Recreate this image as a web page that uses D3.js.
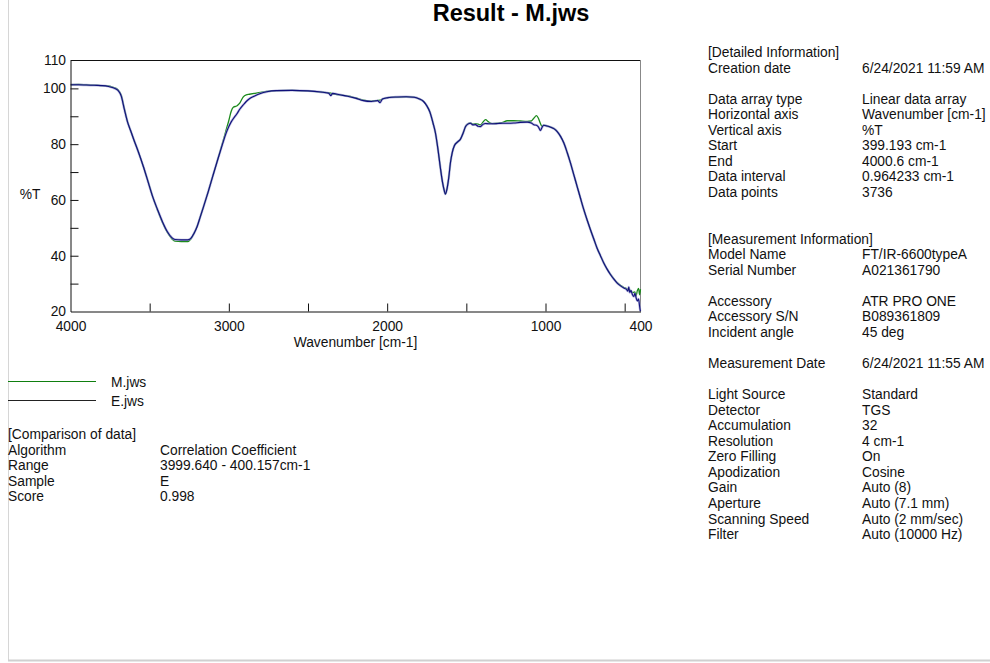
<!DOCTYPE html>
<html>
<head>
<meta charset="utf-8">
<script src="https://cdn.jsdelivr.net/npm/d3@7"></script>
<style>
  html, body { margin: 0; padding: 0; background: #fff; }
  svg text { font-family: "Liberation Sans", Arial, sans-serif; fill: #111; }
</style>
</head>
<body>
<svg id="chart" width="990" height="663"></svg>
<script>
// ---------------- data ----------------
const wavenumbers = [
  4000, 3950, 3900, 3850, 3800, 3760, 3730, 3700, 3680, 3660, 3640, 3620, 3600, 3570, 3540, 3510,
  3480, 3450, 3420, 3390, 3360, 3340, 3300, 3260, 3240, 3220, 3200, 3180, 3160, 3130, 3100, 3070,
  3040, 3020, 3000, 2985, 2970, 2950, 2930, 2910, 2890, 2870, 2840, 2800, 2760, 2700, 2600, 2500,
  2420, 2370, 2355, 2345, 2300, 2250, 2200, 2150, 2100, 2060, 2045, 2030, 2000, 1970, 1940, 1880,
  1830, 1800, 1770, 1750, 1730, 1710, 1695, 1680, 1665, 1650, 1640, 1632, 1622, 1611, 1600, 1589,
  1575, 1555, 1537, 1520, 1505, 1490, 1474, 1458, 1442, 1425, 1411, 1395, 1379, 1360, 1337, 1300,
  1270, 1242, 1200, 1160, 1116, 1090, 1074, 1057, 1045, 1032, 1022, 1011, 990, 968, 945, 926,
  905, 884, 863, 842, 821, 800, 779, 758, 737, 716, 695, 674, 653, 632, 611, 589,
  568, 547, 526, 505, 490, 480, 474, 468, 460, 452, 442, 435, 428, 420, 412, 406,
  402, 400
];
const seriesE = [
  101.3, 101.3, 101.2, 101.1, 101.0, 100.7, 100.2, 99.3, 97.3, 92.5, 88.0, 84.8, 81.6, 77.0, 72.0, 66.5,
  61.0, 56.5, 52.3, 48.8, 46.5, 45.8, 45.7, 45.7, 46.2, 48.0, 50.5, 54.0, 57.5, 63.0, 68.8, 74.5,
  80.0, 83.5, 86.3, 88.0, 89.3, 90.8, 92.6, 94.0, 95.3, 96.3, 97.2, 98.2, 98.8, 99.2, 99.3, 99.1,
  98.7, 98.3, 97.4, 98.2, 97.7, 97.2, 96.5, 95.6, 95.3, 95.6, 94.9, 96.2, 96.6, 96.8, 96.9, 97.0,
  96.8, 96.3, 95.3, 93.8, 91.5, 87.5, 84.0, 78.5, 72.0, 66.2, 63.5, 62.1, 64.0, 68.0, 73.5, 77.0,
  79.5, 80.8, 81.8, 84.0, 86.3, 87.2, 87.5, 86.9, 87.0, 86.4, 86.3, 87.1, 87.4, 87.3, 87.3, 87.4,
  87.5, 87.5, 87.6, 87.8, 87.9, 87.6, 87.0, 86.8, 86.2, 84.9, 86.0, 86.8, 86.5, 86.1, 85.5, 84.5,
  82.8, 80.4, 77.0, 73.2, 69.0, 64.8, 60.6, 56.5, 52.8, 49.3, 46.0, 42.7, 40.0, 37.4, 35.2, 33.2,
  31.6, 30.2, 29.2, 28.4, 28.0, 27.3, 28.8, 26.8, 27.5, 26.2, 25.4, 26.5, 25.0, 23.8, 24.5, 22.0,
  20.5, 20.0
];
const seriesM = [
  101.3, 101.4, 101.3, 101.2, 101.0, 100.9, 100.4, 99.5, 97.6, 92.8, 88.1, 84.8, 81.6, 77.0, 72.0, 66.6,
  61.0, 56.3, 52.0, 48.5, 46.1, 45.2, 45.1, 45.1, 46.0, 48.0, 50.6, 54.0, 57.6, 63.0, 68.8, 74.5,
  80.4, 84.5, 88.5, 91.8, 93.3, 93.7, 94.8, 96.9, 97.7, 97.9, 98.2, 98.6, 98.9, 99.2, 99.3, 99.1,
  98.7, 98.4, 98.3, 98.0, 97.7, 97.3, 96.6, 95.8, 95.4, 95.7, 95.8, 96.2, 96.7, 96.9, 96.8, 97.0,
  96.9, 96.3, 95.3, 93.8, 91.5, 87.5, 84.0, 78.5, 72.0, 66.2, 63.5, 62.1, 64.0, 68.0, 73.5, 77.0,
  79.5, 80.8, 81.8, 84.0, 86.3, 87.3, 87.6, 87.2, 87.4, 87.2, 86.9, 87.9, 88.8, 88.0, 87.4, 87.5,
  87.8, 88.4, 88.4, 88.3, 88.2, 88.3, 89.3, 90.2, 89.3, 87.4, 86.4, 86.8, 86.5, 86.1, 85.5, 84.5,
  82.8, 80.4, 77.0, 73.2, 69.0, 64.8, 60.6, 56.5, 52.8, 49.3, 46.0, 42.7, 40.0, 37.4, 35.2, 33.3,
  31.7, 30.3, 29.4, 28.6, 28.3, 28.0, 27.9, 27.5, 27.6, 26.8, 26.9, 27.0, 25.5, 27.5, 28.3, 26.0,
  27.0, 28.0
];
const xTickLabels = [4000, 3000, 2000, 1000, 400];
const xMinorTicks = [3500, 2500, 1500, 500];
const yTickLabels = [110, 100, 80, 60, 40, 20];
const yAllTicks = [110, 100, 90, 80, 70, 60, 50, 40, 30, 20];

const legendItems = [
  { name: "M.jws", color: "#0f7f0f" },
  { name: "E.jws", color: "#222222" }
];

const comparisonLabels = ["[Comparison of data]", "Algorithm", "Range", "Sample", "Score"];
const comparisonValues = ["", "Correlation Coefficient", "3999.640 - 400.157cm-1", "E", "0.998"];

// right info block: [row index, label, value]
const infoRows = [
  [0, "[Detailed Information]", ""],
  [1, "Creation date", "6/24/2021 11:59 AM"],
  [3, "Data array type", "Linear data array"],
  [4, "Horizontal axis", "Wavenumber [cm-1]"],
  [5, "Vertical axis", "%T"],
  [6, "Start", "399.193 cm-1"],
  [7, "End", "4000.6 cm-1"],
  [8, "Data interval", "0.964233 cm-1"],
  [9, "Data points", "3736"],
  [12, "[Measurement Information]", ""],
  [13, "Model Name", "FT/IR-6600typeA"],
  [14, "Serial Number", "A021361790"],
  [16, "Accessory", "ATR PRO ONE"],
  [17, "Accessory S/N", "B089361809"],
  [18, "Incident angle", "45 deg"],
  [20, "Measurement Date", "6/24/2021 11:55 AM"],
  [22, "Light Source", "Standard"],
  [23, "Detector", "TGS"],
  [24, "Accumulation", "32"],
  [25, "Resolution", "4 cm-1"],
  [26, "Zero Filling", "On"],
  [27, "Apodization", "Cosine"],
  [28, "Gain", "Auto (8)"],
  [29, "Aperture", "Auto (7.1 mm)"],
  [30, "Scanning Speed", "Auto (2 mm/sec)"],
  [31, "Filter", "Auto (10000 Hz)"]
];

// ---------------- drawing ----------------
const svg = d3.select("#chart");
const FS = 13.8;

// page frame
svg.append("line").attr("x1", 8.5).attr("x2", 8.5).attr("y1", 0).attr("y2", 660)
  .attr("stroke", "#d6d6d6").attr("stroke-width", 1);
svg.append("line").attr("x1", 8).attr("x2", 990).attr("y1", 660.5).attr("y2", 660.5)
  .attr("stroke", "#d0d0d0").attr("stroke-width", 2);

// title
svg.append("text").attr("x", 511).attr("y", 21).attr("text-anchor", "middle")
  .attr("font-size", 23.5).attr("font-weight", "bold").style("fill", "#000").text("Result - M.jws");

const plot = { left: 70.5, right: 640.5, top: 60.5, bottom: 311.5 };
const x = d3.scaleLinear().domain([4000, 400]).range([plot.left, plot.right]);
const y = d3.scaleLinear().domain([20, 110]).range([plot.bottom, plot.top]);

// frame: top & right
svg.append("line").attr("x1", plot.left).attr("x2", plot.right).attr("y1", plot.top).attr("y2", plot.top)
  .attr("stroke", "#111");
svg.append("line").attr("x1", plot.right).attr("x2", plot.right).attr("y1", plot.top).attr("y2", plot.bottom)
  .attr("stroke", "#888");

// data rows
const rowsE = wavenumbers.map((w, i) => ({ w, t: seriesE[i] }));
const rowsM = wavenumbers.map((w, i) => ({ w, t: seriesM[i] }));
const line = d3.line().x(d => x(d.w)).y(d => y(Math.max(20, d.t))).curve(d3.curveMonotoneX);

svg.append("clipPath").attr("id", "pc").append("rect")
  .attr("x", plot.left).attr("y", plot.top - 2).attr("width", plot.right - plot.left + 1)
  .attr("height", plot.bottom - plot.top + 2);
const g = svg.append("g").attr("clip-path", "url(#pc)");

g.append("path").datum(rowsM).attr("d", line).attr("fill", "none")
  .attr("stroke", "#1c8a1c").attr("stroke-width", 1.3);
g.append("path").datum(rowsE).attr("d", line).attr("fill", "none")
  .attr("stroke", "#9a9ad2").attr("stroke-width", 2.4).attr("stroke-opacity", 0.7);
g.append("path").datum(rowsE).attr("d", line).attr("fill", "none")
  .attr("stroke", "#10107a").attr("stroke-width", 1.1);

// axes
const xAxis = d3.axisBottom(x)
  .tickValues(xTickLabels.concat(xMinorTicks))
  .tickSizeInner(-8).tickSizeOuter(0)
  .tickFormat(d => xTickLabels.includes(d) ? d : "");
const gx = svg.append("g").attr("transform", `translate(0,${plot.bottom})`).call(xAxis);
gx.select(".domain").attr("stroke", "#111");
gx.selectAll(".tick line").attr("stroke", "#111");
gx.selectAll(".tick").filter(d => d === 4000 || d === 400).select("line").remove();
gx.selectAll(".tick text").attr("font-size", FS).attr("dy", 0).attr("y", 19)
  .style("fill", "#111").attr("font-family", "Liberation Sans, Arial, sans-serif");

const yAxis = d3.axisLeft(y)
  .tickValues(yAllTicks)
  .tickSizeInner(-8).tickSizeOuter(0)
  .tickFormat(d => yTickLabels.includes(d) ? d : "");
const gy = svg.append("g").attr("transform", `translate(${plot.left},0)`).call(yAxis);
gy.select(".domain").attr("stroke", "#111");
gy.selectAll(".tick line").attr("stroke", "#111");
gy.selectAll(".tick").filter(d => d === 110 || d === 20).select("line").remove();
gy.selectAll(".tick text").attr("font-size", FS).attr("x", -4.5)
  .style("fill", "#111").attr("font-family", "Liberation Sans, Arial, sans-serif");

// axis titles
svg.append("text").attr("x", 30).attr("y", 198.5).attr("text-anchor", "middle")
  .attr("font-size", FS).text("%T");
svg.append("text").attr("x", 355.5).attr("y", 347).attr("text-anchor", "middle")
  .attr("font-size", FS).text("Wavenumber [cm-1]");

// legend
const lg = svg.append("g");
legendItems.forEach((it, i) => {
  const yy = 381.5 + i * 19;
  lg.append("line").attr("x1", 8).attr("x2", 96).attr("y1", yy).attr("y2", yy)
    .attr("stroke", it.color).attr("stroke-width", 1.1);
  lg.append("text").attr("x", 111).attr("y", yy + 5).attr("font-size", FS).text(it.name);
});

// comparison block
comparisonLabels.forEach((lab, i) => {
  const yy = 439 + i * 15.5;
  svg.append("text").attr("x", 8).attr("y", yy).attr("font-size", FS).text(lab);
  if (comparisonValues[i]) svg.append("text").attr("x", 160).attr("y", yy).attr("font-size", FS).text(comparisonValues[i]);
});

// info block
infoRows.forEach(([r, lab, val]) => {
  const yy = 57 + r * 15.55;
  svg.append("text").attr("x", 708).attr("y", yy).attr("font-size", FS).text(lab);
  if (val) svg.append("text").attr("x", 862).attr("y", yy).attr("font-size", FS).text(val);
});
</script>
</body>
</html>
